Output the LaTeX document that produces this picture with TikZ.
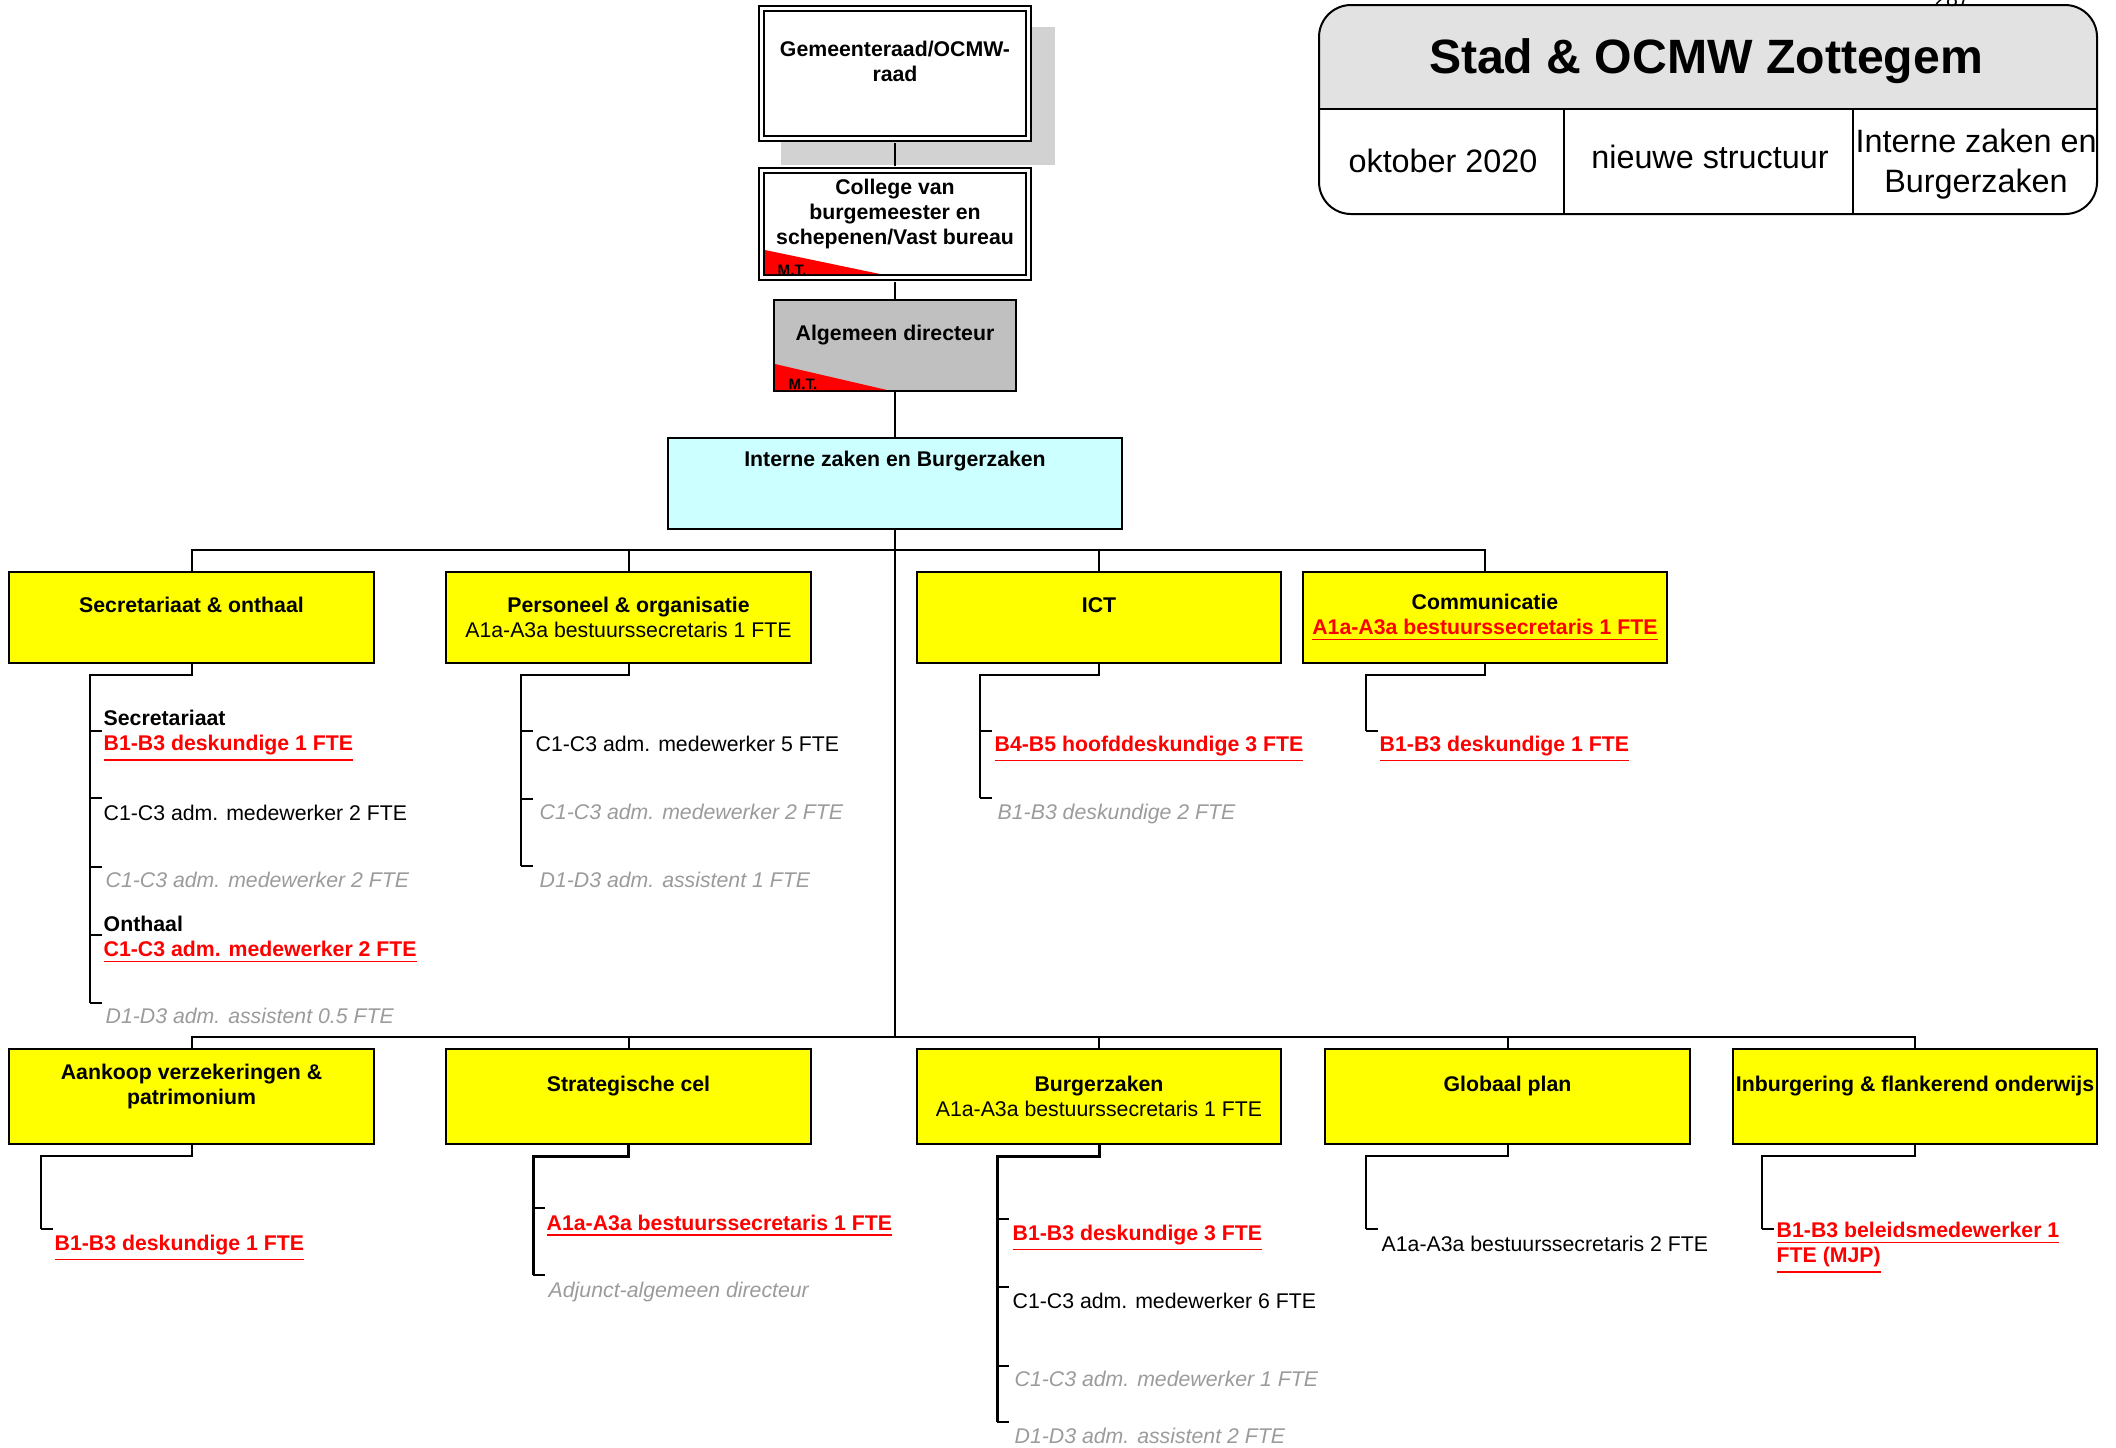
\documentclass[tikz,border=0pt]{standalone}
\usepackage{fontspec}
\setmainfont{Liberation Sans}
\usetikzlibrary{positioning}

\definecolor{unityellow}{RGB}{255,255,0}
\definecolor{staffcyan}{RGB}{204,255,255}
\definecolor{dirgray}{RGB}{192,192,192}
\definecolor{shadowgray}{RGB}{210,210,210}
\definecolor{headgray}{RGB}{226,226,226}
\definecolor{oldgray}{RGB}{155,155,155}

\newcommand{\newpost}[1]{\textcolor{red}{\textbf{\underline{#1}}}}
\newcommand{\oldpost}[1]{\textcolor{oldgray}{\textit{#1}}}

\begin{document}
\begin{tikzpicture}[x=0.01cm,y=-0.01cm,font=\fontsize{6.05}{7.1}\selectfont,
    link/.style={line width=0.02cm},
    heavy/.style={line width=0.03cm},
    board/.style={draw,fill=white,double,double distance=0.03cm,line width=0.02cm,minimum width=2.67cm,align=center,inner sep=0pt},
    unit/.style={draw,fill=unityellow,line width=0.02cm,minimum width=3.64cm,minimum height=0.91cm,align=center,inner sep=0pt},
    low unit/.style={unit,minimum height=0.95cm},
    item/.style={anchor=base west,inner sep=0pt},
    pair/.style={anchor=west,align=left,inner sep=0pt},
    mt/.style={anchor=base west,inner sep=0pt,font=\fontsize{4.3}{5}\selectfont\bfseries},
    cell/.style={align=center,inner sep=0pt,font=\fontsize{9.2}{11.4}\selectfont}]
  \useasboundingbox (0,0) rectangle (2116,1447);

  % title block
  \begin{scope}
    \clip (1300,0) rectangle (2116,109);
    \fill[headgray,rounded corners=0.32cm] (1319,5) rectangle (2097,214);
  \end{scope}
  \draw[link,rounded corners=0.32cm] (1319,5) rectangle (2097,214);
  \draw[link] (1319,109) -- (2097,109) (1564,109) -- (1564,214) (1853,109) -- (1853,214);
  \node[inner sep=0pt,font=\fontsize{13.7}{16}\selectfont\bfseries] (Title) at (1706,61) {Stad \& OCMW Zottegem};
  \node[cell] (Date)  at (1443,161) {oktober 2020};
  \node[cell] (Kind)  at (1710,157) {nieuwe structuur};
  \node[cell] (Scope) at (1976,164) {Interne zaken en\\Burgerzaken};
  \node[anchor=base,inner sep=0pt] (PageNo) at (1952,6) {287};

  % top of the tree
  \fill[shadowgray] (781,27) rectangle (1055,165);
  \node[board,minimum height=1.30cm] (Gemeente) at (895,73.5) {\textbf{Gemeenteraad/OCMW-}\\\textbf{raad}\\~};
  \node[board,minimum height=1.07cm] (College)  at (895,224) {\textbf{College van}\\\textbf{burgemeester en}\\\textbf{schepenen/Vast bureau}\\~};
  \fill[red] (765,250) -- (880,274) -- (765,274) -- cycle;
  \node[mt] (CollegeMT) at (777,275) {M.T.};
  \node[draw,fill=dirgray,line width=0.02cm,minimum width=2.42cm,minimum height=0.91cm,align=center,inner sep=0pt] (AlgDir) at (895,345.5) {\textbf{Algemeen directeur}\\~};
  \fill[red] (775,364) -- (887,390) -- (775,390) -- cycle;
  \node[mt] (AlgDirMT) at (788,389) {M.T.};
  \node[draw,fill=staffcyan,line width=0.02cm,minimum width=4.53cm,minimum height=0.91cm,align=center,inner sep=0pt] (Interne) at (895,483.5) {\textbf{Interne zaken en Burgerzaken}\\~\\~};

  \draw[link,shorten <=0.035cm,shorten >=0.035cm] (Gemeente) -- (College);
  \draw[link,shorten <=0.035cm] (College) -- (AlgDir);
  \draw[link] (AlgDir) -- (Interne);

  % units
  \node[unit] (SecrOnthaal) at (191.5,617.5) {\textbf{Secretariaat \& onthaal}\\~};
  \node[unit] (PersOrg)     at (628.5,617.5) {\textbf{Personeel \& organisatie}\\A1a-A3a bestuurssecretaris 1 FTE};
  \node[unit] (ICT)         at (1099,617.5)  {\textbf{ICT}\\~};
  \node[unit] (Comm)        at (1485,617.5)  {\textbf{Communicatie}\\\newpost{A1a-A3a bestuurssecretaris 1 FTE}};
  \node[low unit] (Aankoop)     at (191.5,1096.5) {\textbf{Aankoop verzekeringen \&}\\\textbf{patrimonium}\\~};
  \node[low unit] (StratCel)    at (628.5,1096.5) {\textbf{Strategische cel}\\~};
  \node[low unit] (Burgerzaken) at (1099,1096.5)  {\textbf{Burgerzaken}\\A1a-A3a bestuurssecretaris 1 FTE};
  \node[low unit] (GlobaalPlan) at (1507.5,1096.5) {\textbf{Globaal plan}\\~};
  \node[low unit] (Inburgering) at (1915,1096.5)  {\textbf{Inburgering \& flankerend onderwijs}\\~};

  \coordinate (TopBus) at (895,550);
  \coordinate (LowBus) at (895,1037);
  \draw[link] (Interne) -- (LowBus);
  \foreach \u in {SecrOnthaal,PersOrg,ICT,Comm}
    \draw[link] (\u.north) |- (TopBus);
  \foreach \u in {Aankoop,StratCel,Burgerzaken,GlobaalPlan,Inburgering}
    \draw[link] (\u.north) |- (LowBus);

  % Secretariaat & onthaal
  \foreach \n/\y in {SecA/731,SecB/798,SecC/867,SecD/935,SecE/1003} {
    \coordinate (\n) at (90,\y);
    \draw[link] (\n) -- ++(12,0);
  }
  \draw[link] (SecrOnthaal.south) -- ++(0,11) -| (SecE);
  \node[pair] (SecPost)     at (103,736)  {\textbf{Secretariaat}\\\newpost{B1-B3 deskundige 1 FTE}};
  \node[item] (SecClerk)    at (103,820)  {C1-C3 adm. medewerker 2 FTE};
  \node[item] (SecClerkOld) at (105,887)  {\oldpost{C1-C3 adm. medewerker 2 FTE}};
  \node[pair] (Onthaal)     at (103,940)  {\textbf{Onthaal}\\\newpost{C1-C3 adm. medewerker 2 FTE}};
  \node[item] (SecAssist)   at (105,1023) {\oldpost{D1-D3 adm. assistent 0.5 FTE}};

  % Personeel & organisatie
  \foreach \n/\y in {PerA/731,PerB/799,PerC/866} {
    \coordinate (\n) at (521,\y);
    \draw[link] (\n) -- ++(12,0);
  }
  \draw[link] (PersOrg.south) -- ++(0,11) -| (PerC);
  \node[item] (PerClerk)    at (535,751) {C1-C3 adm. medewerker 5 FTE};
  \node[item] (PerClerkOld) at (539,819) {\oldpost{C1-C3 adm. medewerker 2 FTE}};
  \node[item] (PerAssist)   at (539,887) {\oldpost{D1-D3 adm. assistent 1 FTE}};

  % ICT
  \foreach \n/\y in {IctA/731,IctB/798} {
    \coordinate (\n) at (980,\y);
    \draw[link] (\n) -- ++(12,0);
  }
  \draw[link] (ICT.south) -- ++(0,11) -| (IctB);
  \node[item] (IctHead)   at (994,751) {\newpost{B4-B5 hoofddeskundige 3 FTE}};
  \node[item] (IctExpert) at (997,819) {\oldpost{B1-B3 deskundige 2 FTE}};

  % Communicatie
  \coordinate (ComA) at (1366,731);
  \draw[link] (ComA) -- ++(12,0);
  \draw[link] (Comm.south) -- ++(0,11) -| (ComA);
  \node[item] (ComExpert) at (1379,751) {\newpost{B1-B3 deskundige 1 FTE}};

  % Aankoop verzekeringen & patrimonium
  \coordinate (AanA) at (41,1229);
  \draw[link] (AanA) -- ++(12,0);
  \draw[link] (Aankoop.south) -- ++(0,11) -| (AanA);
  \node[item] (AanExpert) at (54,1250) {\newpost{B1-B3 deskundige 1 FTE}};

  % Strategische cel
  \foreach \n/\y in {StrA/1208,StrB/1275} {
    \coordinate (\n) at (533,\y);
    \draw[link] (\n) -- ++(12,0);
  }
  \draw[heavy] (StratCel.south) -- ++(0,11) -| (StrB);
  \node[item] (StrSecr)    at (546,1230) {\newpost{A1a-A3a bestuurssecretaris 1 FTE}};
  \node[item] (StrAdjunct) at (548,1297) {\oldpost{Adjunct-algemeen directeur}};

  % Burgerzaken
  \foreach \n/\y in {BurA/1219,BurB/1287,BurC/1366,BurD/1422} {
    \coordinate (\n) at (997,\y);
    \draw[link] (\n) -- ++(12,0);
  }
  \draw[heavy] (Burgerzaken.south) -- ++(0,11) -| (BurD);
  \node[item] (BurExpert)   at (1012,1240) {\newpost{B1-B3 deskundige 3 FTE}};
  \node[item] (BurClerk)    at (1012,1308) {C1-C3 adm. medewerker 6 FTE};
  \node[item] (BurClerkOld) at (1014,1386) {\oldpost{C1-C3 adm. medewerker 1 FTE}};
  \node[item] (BurAssist)   at (1014,1443) {\oldpost{D1-D3 adm. assistent 2 FTE}};

  % Globaal plan
  \coordinate (GloA) at (1366,1229);
  \draw[link] (GloA) -- ++(12,0);
  \draw[link] (GlobaalPlan.south) -- ++(0,11) -| (GloA);
  \node[item] (GloSecr) at (1381,1251) {A1a-A3a bestuurssecretaris 2 FTE};

  % Inburgering & flankerend onderwijs
  \coordinate (InbA) at (1762,1229);
  \draw[link] (InbA) -- ++(12,0);
  \draw[link] (Inburgering.south) -- ++(0,11) -| (InbA);
  \node[pair] (InbPolicy) at (1776,1248) {\newpost{B1-B3 beleidsmedewerker 1}\\\newpost{FTE (MJP)}};
\end{tikzpicture}
\end{document}
